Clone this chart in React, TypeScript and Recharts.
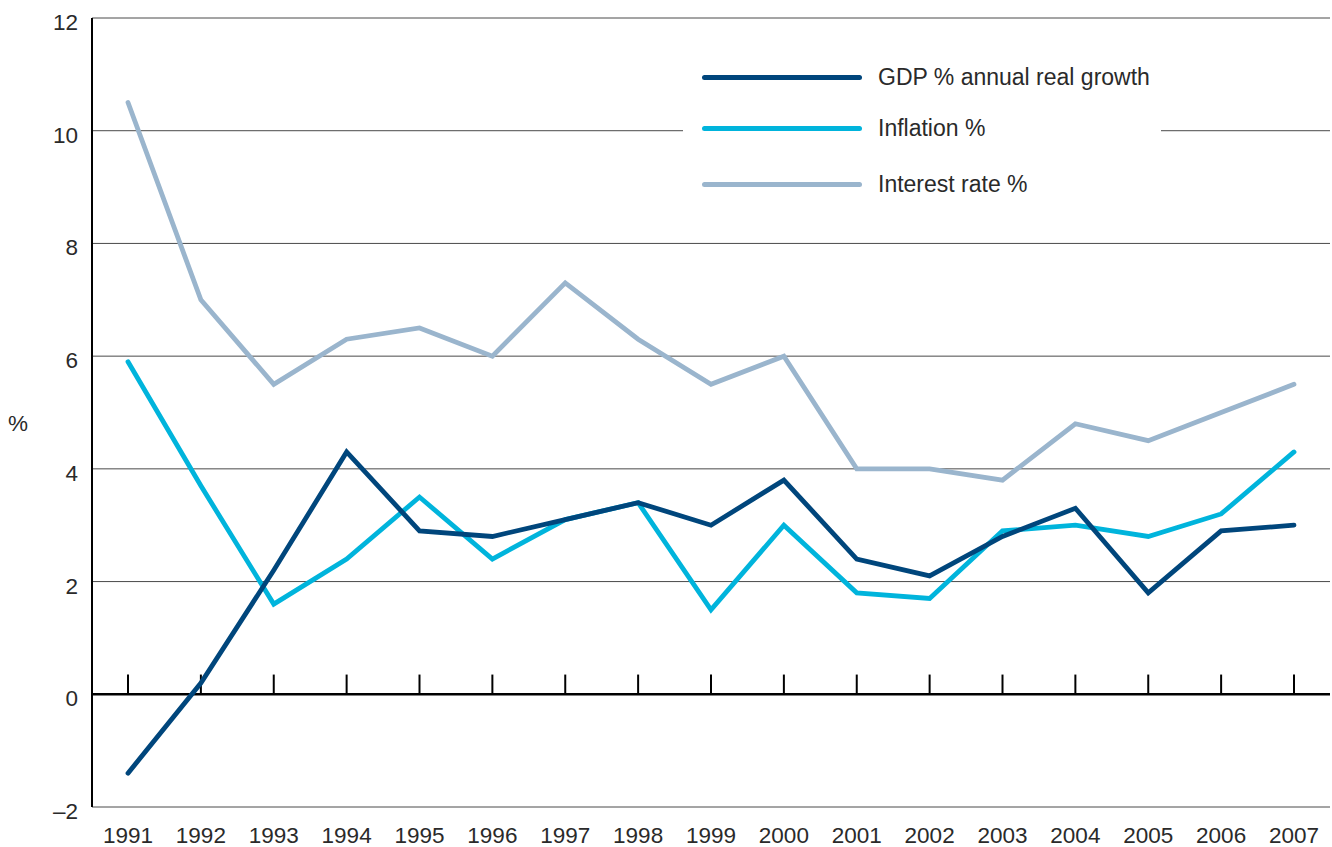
import React from "react";
import {
  LineChart,
  Line,
  XAxis,
  YAxis,
  CartesianGrid,
  Legend,
  ReferenceLine,
} from "recharts";

const years = [
  "1991", "1992", "1993", "1994", "1995", "1996", "1997", "1998", "1999",
  "2000", "2001", "2002", "2003", "2004", "2005", "2006", "2007",
];

const gdpGrowth = [-1.4, 0.2, 2.2, 4.3, 2.9, 2.8, 3.1, 3.4, 3.0, 3.8, 2.4, 2.1, 2.8, 3.3, 1.8, 2.9, 3.0];
const inflation = [5.9, 3.7, 1.6, 2.4, 3.5, 2.4, 3.1, 3.4, 1.5, 3.0, 1.8, 1.7, 2.9, 3.0, 2.8, 3.2, 4.3];
const interestRate = [10.5, 7.0, 5.5, 6.3, 6.5, 6.0, 7.3, 6.3, 5.5, 6.0, 4.0, 4.0, 3.8, 4.8, 4.5, 5.0, 5.5];

const yTicks = [-2, 0, 2, 4, 6, 8, 10, 12];

const series = [
  { key: "gdp", name: "GDP % annual real growth", color: "#00467c" },
  { key: "inflation", name: "Inflation %", color: "#00b4dc" },
  { key: "interest", name: "Interest rate %", color: "#9ab5cd" },
];

const data = years.map((year, i) => ({
  year,
  gdp: gdpGrowth[i],
  inflation: inflation[i],
  interest: interestRate[i],
}));

const FONT = "'Liberation Sans', Arial, sans-serif";
const TEXT = "#2a2a2a";

// row centres inside the legend box (px from its top)
const ROW_Y = [27, 78, 134];

function LegendBox() {
  return (
    <div
      style={{
        position: "relative",
        width: 478,
        height: 160,
        background: "#fff",
        fontFamily: FONT,
        fontSize: 23,
        color: TEXT,
      }}
    >
      {series.map((s, i) => (
        <div
          key={s.key}
          style={{
            position: "absolute",
            left: 19,
            top: ROW_Y[i] - 15,
            height: 30,
            display: "flex",
            alignItems: "center",
            whiteSpace: "nowrap",
          }}
        >
          <span
            style={{
              display: "inline-block",
              width: 160,
              height: 5,
              borderRadius: 3,
              background: s.color,
              marginRight: 16,
            }}
          />
          <span>{s.name}</span>
        </div>
      ))}
    </div>
  );
}

export default function App() {
  return (
    <div style={{ position: "absolute", left: 0, top: 0, background: "#fff" }}>
      <LineChart
        width={1332}
        height={847}
        data={data}
        margin={{ top: 18, right: 2, bottom: 0, left: 0 }}
      >
        <CartesianGrid vertical={false} stroke="#4a4a4a" strokeWidth={1} />
        <XAxis
          dataKey="year"
          type="category"
          scale="point"
          padding={{ left: 36, right: 36 }}
          height={40}
          axisLine={false}
          tickLine={false}
          tickMargin={14}
          interval={0}
          tick={{ fill: TEXT, fontSize: 22.5, fontFamily: FONT }}
        />
        <YAxis
          width={92}
          domain={[-2, 12]}
          ticks={yTicks}
          interval={0}
          axisLine={{ stroke: "#000", strokeWidth: 2 }}
          tickLine={false}
          tickMargin={8}
          tickFormatter={(v: number) => (v < 0 ? `\u2013${Math.abs(v)}` : `${v}`)}
          tick={{ fill: TEXT, fontSize: 22.5, fontFamily: FONT, dy: 4 }}
          label={{
            value: "%",
            position: "insideLeft",
            offset: 8,
            dy: 11,
            fill: TEXT,
            fontSize: 22.5,
            fontFamily: FONT,
          }}
        />
        <ReferenceLine y={0} stroke="#000" strokeWidth={2.5} />
        {years.map((yr) => (
          <ReferenceLine
            key={yr}
            segment={[
              { x: yr, y: 0 },
              { x: yr, y: 0.35 },
            ]}
            stroke="#000"
            strokeWidth={2}
          />
        ))}
        <Legend
          layout="horizontal"
          verticalAlign="middle"
          align="center"
          content={() => <LegendBox />}
          wrapperStyle={{ left: 683, top: 50, width: 478, height: 160 }}
        />
        {series
          .slice()
          .reverse()
          .map((s) => (
            <Line
              key={s.key}
              type="linear"
              dataKey={s.key}
              name={s.name}
              stroke={s.color}
              strokeWidth={4.8}
              strokeLinecap="round"
              dot={false}
              activeDot={false}
              isAnimationActive={false}
            />
          ))}
      </LineChart>
    </div>
  );
}
